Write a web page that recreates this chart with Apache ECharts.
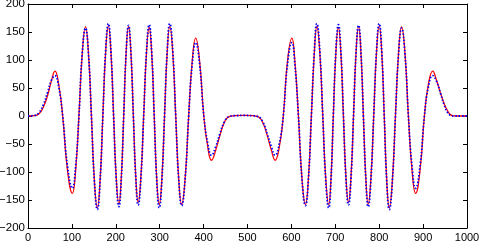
<!DOCTYPE html>
<html>
<head>
<meta charset="utf-8">
<script src="https://cdn.jsdelivr.net/npm/echarts@6/dist/echarts.min.js"></script>
<style>html,body{margin:0;padding:0;background:#fff}#c{width:479px;height:241px}</style>
</head>
<body>
<div id="c"></div>
<script>
var xValues = [0,15,25,35,45,53,61.5,
70,79,90,101,
108.5,116,123.5,131,
137.8,144.5,151.2,158,
164.2,170.5,176.8,183,
189,195,201,207,
212.5,218,223.5,229,
234.5,240,245.5,251,
257.2,263.5,269.8,276,
281.8,287.5,293.2,299,
305,311,317,323,
329.8,336.5,343.2,350,
358,366,374,382,
391,400.5,409.5,418,
428,437,447,458,470,491,512,524,535,545,554,563,
572.5,581.5,591,601,
608,616,624,632,
638.8,645.5,652.2,658,
664.8,671.5,678.2,685,
690.2,695.5,701.2,707,
712.8,718.5,724.2,730,
735.8,741.5,747.2,753,
758.5,764,769.5,775,
781.2,787.5,793.8,800,
805.8,811.5,817.2,823,
830,837,844,851,
858.8,866.5,874.8,883,
893,903,912,922,
930,940,948,956,963,970,985,1000];

var redValues = [0,0.5,4,16,38,62,80,
56,0,-97,-138,
-97,0,111,159,
111,0,-115,-164,
-115,0,113,161,
113,0,-110,-157,
-110,0,112,160,
112,0,-108,-154,
-108,0,111,158,
111,0,-111,-158,
-111,0,112,160,
112,0,-111,-158,
-111,0,97,139,
97,0,-55,-79,
-60,-35,-12,-1,0.5,1,0.5,-1,-12,-35,-60,-79,
-55,0,97,139,
97,0,-111,-158,
-111,0,112,160,
112,0,-111,-158,
-111,0,111,158,
111,0,-108,-154,
-108,0,112,160,
112,0,-110,-157,
-110,0,113,161,
113,0,-115,-164,
-115,0,111,159,
111,0,-97,-138,
-97,0,56,80,
65,40,22,9,2,0.3,0,0];

var blueValues = [0,1,6,20,43,63,72,
52,0,-90,-129,
-90,0,110,157,
110,0,-117,-167,
-117,0,115,165,
115,0,-113,-162,
-113,0,113,162,
113,0,-111,-159,
-111,0,114,163,
114,0,-115,-164,
-115,0,115,165,
115,0,-112,-160,
-112,0,92,131,
92,0,-49,-70,
-54,-32,-11,-1,0.5,1,0.5,-1,-11,-32,-54,-70,
-49,0,92,131,
92,0,-112,-160,
-112,0,115,165,
115,0,-115,-164,
-115,0,114,163,
114,0,-111,-159,
-111,0,113,162,
113,0,-113,-162,
-113,0,115,165,
115,0,-117,-167,
-117,0,110,157,
110,0,-90,-129,
-90,0,52,72,
63,40,20,6,1,0,0,0];

var xTicks = {min: 0, max: 1000, interval: 100};
var yTicks = {min: -200, max: 200, interval: 50};

function pairs(xs, ys) { return xs.map(function (x, i) { return [x, ys[i]]; }); }
function fmt(v) { return String(v).replace('-', '\u2212'); }

var fontX = {color: '#000', fontSize: 11, fontFamily: 'Liberation Sans, Arial, sans-serif'};
var fontY = {color: '#000', fontSize: 11.5, fontFamily: 'Liberation Sans, Arial, sans-serif'};
var line = {show: true, onZero: false, lineStyle: {color: '#000', width: 1}};
var tick = {show: true, inside: true, length: 4, lineStyle: {color: '#000', width: 1}};

var chart = echarts.init(document.getElementById('c'), null, {renderer: 'canvas'});
chart.setOption({
  animation: false,
  grid: {left: 28, right: 12, top: 4, bottom: 13, containLabel: false, outerBoundsMode: 'none'},
  xAxis: [
    {type: 'value', min: xTicks.min, max: xTicks.max, interval: xTicks.interval, position: 'bottom',
     axisLine: line, axisTick: tick, splitLine: {show: false},
     axisLabel: Object.assign({margin: 4, formatter: fmt}, fontX)},
    {type: 'value', min: xTicks.min, max: xTicks.max, interval: xTicks.interval, position: 'top',
     axisLine: line, axisTick: tick, splitLine: {show: false}, axisLabel: {show: false}}
  ],
  yAxis: [
    {type: 'value', min: yTicks.min, max: yTicks.max, interval: yTicks.interval, position: 'left',
     axisLine: line, axisTick: tick, splitLine: {show: false},
     axisLabel: Object.assign({margin: 3, formatter: fmt}, fontY)},
    {type: 'value', min: yTicks.min, max: yTicks.max, interval: yTicks.interval, position: 'right',
     axisLine: line, axisTick: tick, splitLine: {show: false}, axisLabel: {show: false}}
  ],
  series: [
    {type: 'line', data: pairs(xValues, redValues), smooth: 0.5, showSymbol: false,
     lineStyle: {color: '#ff0000', width: 1.3}, z: 2},
    {type: 'line', data: pairs(xValues, blueValues), smooth: 0.5, showSymbol: false,
     lineStyle: {color: '#0000ff', width: 1.8, type: [1.5, 1.8]}, z: 3}
  ]
});
</script>
</body>
</html>
